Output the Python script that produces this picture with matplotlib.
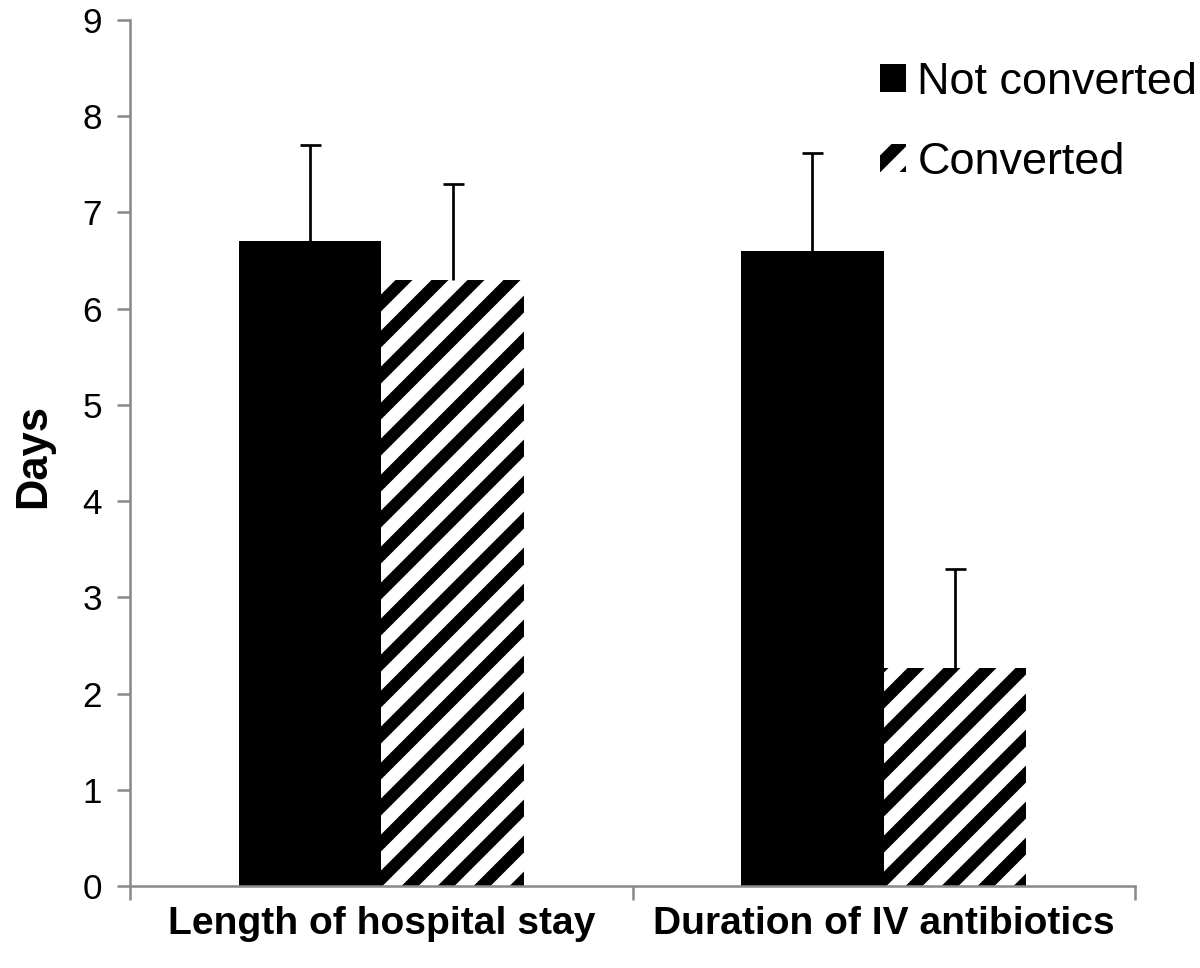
import numpy as np
import matplotlib
matplotlib.use("Agg")
import matplotlib.pyplot as plt

# data
categories = ["Length of hospital stay", "Duration of IV antibiotics"]
series_names = ["Not converted", "Converted"]
not_converted = [6.7, 6.6]
converted = [6.3, 2.27]
not_converted_err = [1.0, 1.02]
converted_err = [1.0, 1.02]
y_ticks = list(range(0, 10))

DPI = 216
AXIS_GRAY = "#8a8a8a"

plt.rcParams["font.family"] = ["Liberation Sans", "DejaVu Sans"]
plt.rcParams["hatch.linewidth"] = 4.0

fig = plt.figure(figsize=(1200 / DPI, 968 / DPI), dpi=DPI)
ax = fig.add_axes([130 / 1200, 1 - 886 / 968, (1135 - 130) / 1200, (886 - 20) / 968])

x = np.arange(len(categories))
w = 0.284
ax.bar(x - w / 2, not_converted, w, color="black", linewidth=0,
       label=series_names[0], zorder=2)
ax.bar(x + w / 2, converted, w, color="white", edgecolor="black", linewidth=0,
       hatch="//", label=series_names[1], zorder=2)

# upward-only error bars with a cap
for xs, vals, errs in [(x - w / 2, not_converted, not_converted_err),
                       (x + w / 2, converted, converted_err)]:
    eb = ax.errorbar(xs, vals, yerr=[np.zeros(len(errs)), errs], fmt="none",
                     ecolor="black", elinewidth=0.9, capsize=3.5, capthick=0.9,
                     zorder=3)
    eb[1][0].set_visible(False)

ax.set_ylim(0, 9)
ax.set_xlim(-0.5, 1.5)
ax.set_yticks(y_ticks)
ax.tick_params(axis="y", labelsize=11.7, length=4.3, width=0.85,
               color=AXIS_GRAY, pad=5)

ax.set_xticks([-0.5, 0.5, 1.5])
ax.set_xticklabels([])
ax.set_xticks(x, minor=True)
ax.set_xticklabels(categories, minor=True, fontsize=13, fontweight="bold")
ax.tick_params(axis="x", which="major", length=4.7, width=0.85, color=AXIS_GRAY)
ax.tick_params(axis="x", which="minor", length=0, pad=6.5)

for s in ["top", "right"]:
    ax.spines[s].set_visible(False)
for s in ["left", "bottom"]:
    ax.spines[s].set_color(AXIS_GRAY)
    ax.spines[s].set_linewidth(0.85)

ax.set_ylabel("Days", fontsize=14.5, fontweight="bold")
ax.yaxis.set_label_coords((54 - 130) / 1005, (886 - 456) / 866)

ax.legend(loc="upper left", bbox_to_anchor=(880 / 1200, 1 - 62 / 968),
          bbox_transform=fig.transFigure, frameon=False, fontsize=15,
          handlelength=0.58, handleheight=0.58, handletextpad=0.25,
          labelspacing=0.86, borderpad=0, borderaxespad=0)

fig.savefig("out.png", dpi=DPI)
